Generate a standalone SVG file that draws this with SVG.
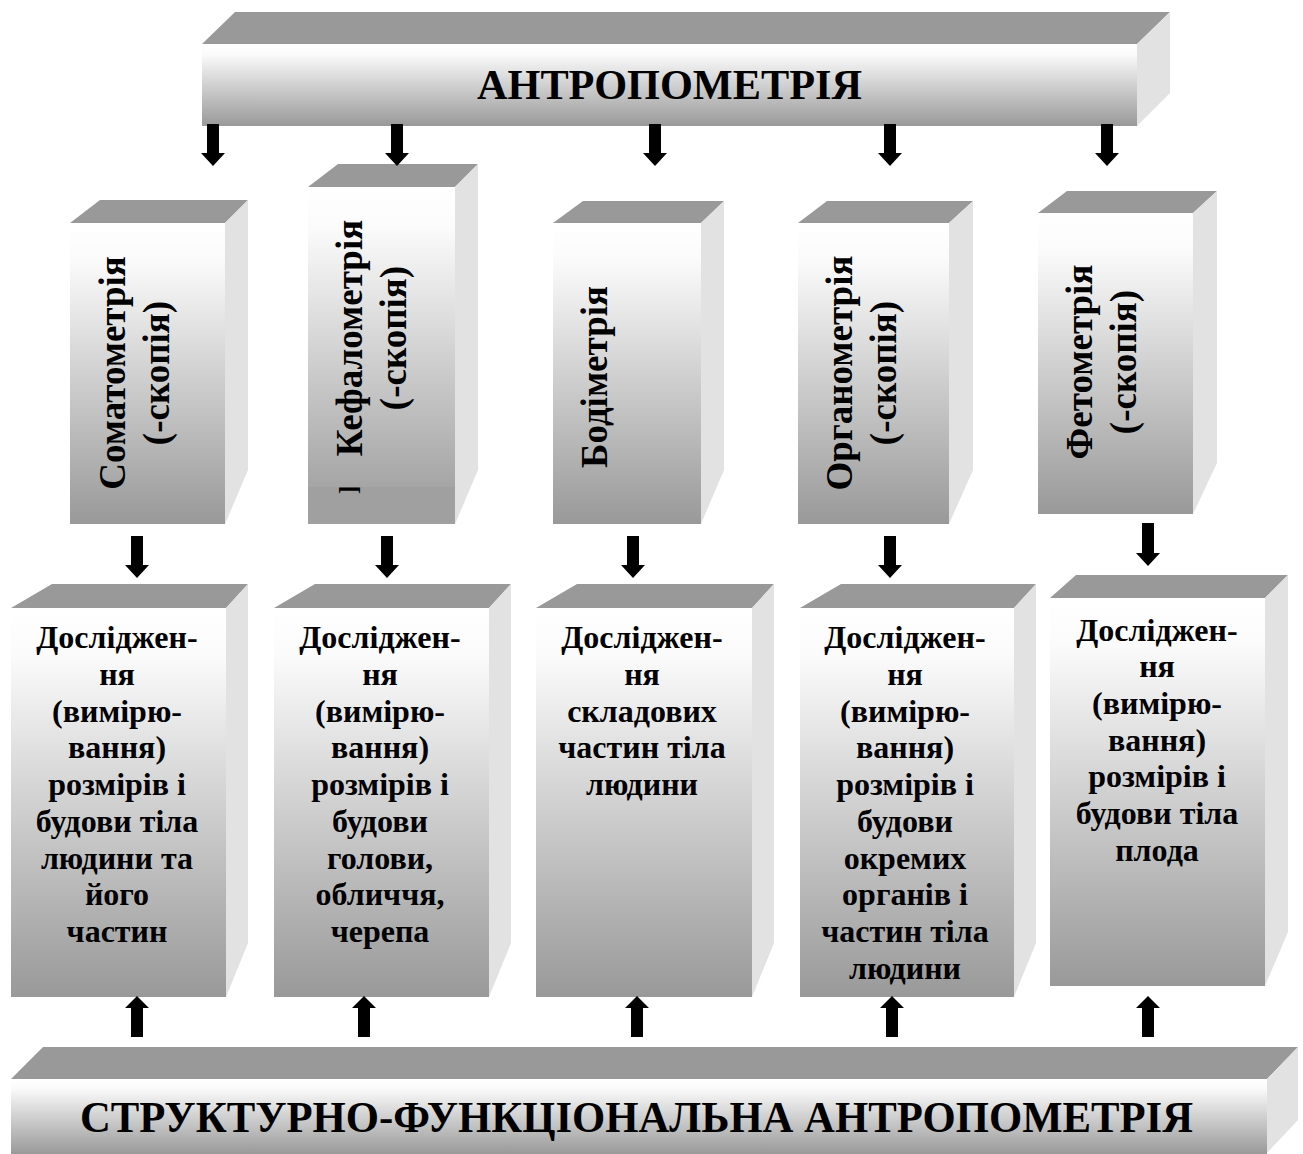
<svg xmlns="http://www.w3.org/2000/svg" width="1303" height="1154" viewBox="0 0 1303 1154">
<style>
.topf{fill:#999999}
.side{fill:#e2e2e2}
.front{fill:url(#fg)}
.t{font-family:"Liberation Serif","Times New Roman",serif;font-weight:bold;fill:#000}
.v{font-size:37px;text-anchor:middle}
.b{font-size:32px;text-anchor:middle}
.arrow{fill:#000}
</style>
<defs>
<linearGradient id="fg" x1="0" y1="0" x2="0" y2="1">
<stop offset="0" stop-color="#ffffff"/>
<stop offset="0.12" stop-color="#fbfbfb"/>
<stop offset="1" stop-color="#999999"/>
</linearGradient>
</defs>
<rect width="1303" height="1154" fill="#fff"/>

<g id="top">
<polygon class="topf" points="202,44 235,12 1170,12 1137,44"/>
<polygon class="side" points="1137,44 1170,12 1170,93 1137,126"/>
<rect class="front" x="202" y="44" width="935" height="82"/>
<text class="t" x="669.5" y="99" font-size="43" text-anchor="middle" textLength="385" lengthAdjust="spacingAndGlyphs">АНТРОПОМЕТРІЯ</text>
</g>

<g id="soma">
<polygon class="topf" points="70,223 100,200 248,200 225,223"/>
<polygon class="side" points="225,223 248,200 248,470 225,524"/>
<rect class="front" x="70" y="223" width="155" height="301"/>
<text class="t v" transform="translate(125,373) rotate(-90)">Соматометрія</text>
<text class="t v" transform="translate(169,373) rotate(-90)">(-скопія)</text>
</g>

<g id="kefalo">
<polygon class="topf" points="308,187 338,164 478,164 455,187"/>
<polygon class="side" points="455,187 478,164 478,470 455,524"/>
<rect class="front" x="308" y="187" width="147" height="337"/>
<rect x="308" y="487" width="147" height="37" fill="#a0a0a0"/>
<text class="t v" transform="translate(362,338) rotate(-90)">Кефалометрія</text>
<text class="t v" transform="translate(406,338) rotate(-90)">(-скопія)</text>
<text class="t" font-size="26" text-anchor="middle" transform="translate(357,490) rotate(-90)">]</text>
</g>

<g id="bodi">
<polygon class="topf" points="553,223 583,201 724,201 701,223"/>
<polygon class="side" points="701,223 724,201 724,470 701,524"/>
<rect class="front" x="553" y="223" width="148" height="301"/>
<text class="t v" transform="translate(607,377) rotate(-90)">Бодіметрія</text>
</g>

<g id="organo">
<polygon class="topf" points="798,223 827,201 973,201 949,223"/>
<polygon class="side" points="949,223 973,201 973,470 949,524"/>
<rect class="front" x="798" y="223" width="151" height="301"/>
<text class="t v" transform="translate(852,373) rotate(-90)">Органометрія</text>
<text class="t v" transform="translate(896,373) rotate(-90)">(-скопія)</text>
</g>

<g id="feto">
<polygon class="topf" points="1038,213 1067,191 1217,191 1193,213"/>
<polygon class="side" points="1193,213 1217,191 1217,463 1193,514"/>
<rect class="front" x="1038" y="213" width="155" height="301"/>
<text class="t v" transform="translate(1092,362) rotate(-90)">Фетометрія</text>
<text class="t v" transform="translate(1136,362) rotate(-90)">(-скопія)</text>
</g>

<g id="d1">
<polygon class="topf" points="11,608 52,584 248,584 226,608"/>
<polygon class="side" points="226,608 248,584 248,943 226,997"/>
<rect class="front" x="11" y="608" width="215" height="389"/>
<text class="t b"><tspan x="117" y="648">Досліджен-</tspan><tspan x="117" y="685">ня</tspan><tspan x="117" y="722">(вимірю-</tspan><tspan x="117" y="758">вання)</tspan><tspan x="117" y="795">розмірів і</tspan><tspan x="117" y="832">будови тіла</tspan><tspan x="117" y="869">людини та</tspan><tspan x="117" y="905">його</tspan><tspan x="117" y="942">частин</tspan></text>
</g>

<g id="d2">
<polygon class="topf" points="274,608 315,584 511,584 489,608"/>
<polygon class="side" points="489,608 511,584 511,943 489,997"/>
<rect class="front" x="274" y="608" width="215" height="389"/>
<text class="t b"><tspan x="380" y="648">Досліджен-</tspan><tspan x="380" y="685">ня</tspan><tspan x="380" y="722">(вимірю-</tspan><tspan x="380" y="758">вання)</tspan><tspan x="380" y="795">розмірів і</tspan><tspan x="380" y="832">будови</tspan><tspan x="380" y="869">голови,</tspan><tspan x="380" y="905">обличчя,</tspan><tspan x="380" y="942">черепа</tspan></text>
</g>

<g id="d3">
<polygon class="topf" points="536,608 577,584 774,584 752,608"/>
<polygon class="side" points="752,608 774,584 774,943 752,997"/>
<rect class="front" x="536" y="608" width="216" height="389"/>
<text class="t b"><tspan x="642" y="648">Досліджен-</tspan><tspan x="642" y="685">ня</tspan><tspan x="642" y="722">складових</tspan><tspan x="642" y="758">частин тіла</tspan><tspan x="642" y="795">людини</tspan></text>
</g>

<g id="d4">
<polygon class="topf" points="800,608 841,584 1036,584 1014,608"/>
<polygon class="side" points="1014,608 1036,584 1036,943 1014,997"/>
<rect class="front" x="800" y="608" width="214" height="389"/>
<text class="t b"><tspan x="905" y="648">Досліджен-</tspan><tspan x="905" y="685">ня</tspan><tspan x="905" y="722">(вимірю-</tspan><tspan x="905" y="758">вання)</tspan><tspan x="905" y="795">розмірів і</tspan><tspan x="905" y="832">будови</tspan><tspan x="905" y="869">окремих</tspan><tspan x="905" y="905">органів і</tspan><tspan x="905" y="942">частин тіла</tspan><tspan x="905" y="979">людини</tspan></text>
</g>

<g id="d5">
<polygon class="topf" points="1050,598 1076,575 1288,575 1265,598"/>
<polygon class="side" points="1265,598 1288,575 1288,932 1265,986"/>
<rect class="front" x="1050" y="598" width="215" height="388"/>
<text class="t b"><tspan x="1157" y="641">Досліджен-</tspan><tspan x="1157" y="677">ня</tspan><tspan x="1157" y="714">(вимірю-</tspan><tspan x="1157" y="751">вання)</tspan><tspan x="1157" y="787">розмірів і</tspan><tspan x="1157" y="824">будови тіла</tspan><tspan x="1157" y="861">плода</tspan></text>
</g>

<g id="bottom">
<polygon class="topf" points="11,1079 43,1047 1298,1047 1267,1079"/>
<polygon class="side" points="1267,1079 1298,1047 1298,1120 1267,1153"/>
<rect class="front" x="11" y="1079" width="1256" height="75"/>
<text class="t" x="636.5" y="1132" font-size="44" text-anchor="middle" textLength="1113" lengthAdjust="spacingAndGlyphs">СТРУКТУРНО-ФУНКЦІОНАЛЬНА АНТРОПОМЕТРІЯ</text>
</g>

<g id="connectors">
<path class="arrow" d="M207,124h12v29h6l-12,13l-12,-13h6z"/>
<path class="arrow" d="M391,124h12v29h6l-12,13l-12,-13h6z"/>
<path class="arrow" d="M649,124h12v29h6l-12,13l-12,-13h6z"/>
<path class="arrow" d="M884,124h12v29h6l-12,13l-12,-13h6z"/>
<path class="arrow" d="M1101,124h12v29h6l-12,13l-12,-13h6z"/>
<path class="arrow" d="M131,536h12v29h6l-12,13l-12,-13h6z"/>
<path class="arrow" d="M381,536h12v29h6l-12,13l-12,-13h6z"/>
<path class="arrow" d="M627,536h12v29h6l-12,13l-12,-13h6z"/>
<path class="arrow" d="M884,536h12v29h6l-12,13l-12,-13h6z"/>
<path class="arrow" d="M1142,523h12v30h6l-12,13l-12,-13h6z"/>
<path class="arrow" d="M131,1037h12v-29h6l-12,-12l-12,12h6z"/>
<path class="arrow" d="M358,1037h12v-29h6l-12,-12l-12,12h6z"/>
<path class="arrow" d="M631,1037h12v-29h6l-12,-12l-12,12h6z"/>
<path class="arrow" d="M886,1037h12v-29h6l-12,-12l-12,12h6z"/>
<path class="arrow" d="M1142,1037h12v-29h6l-12,-12l-12,12h6z"/>
</g>
</svg>
